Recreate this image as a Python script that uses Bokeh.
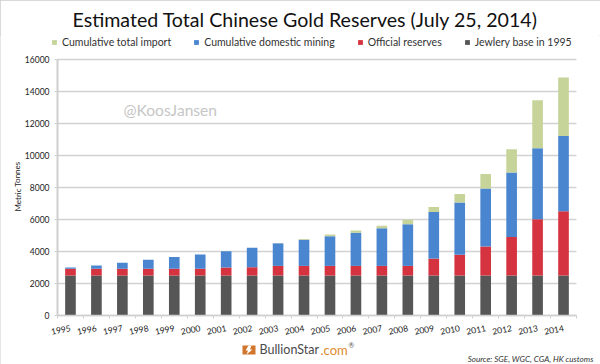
from bokeh.plotting import figure
from bokeh.embed import file_html
from bokeh.resources import INLINE
from bokeh.models import (Label, Legend, LegendItem, FixedTicker, Range1d, ColumnDataSource,
                          BoxAnnotation, PolyAnnotation)

years = list(range(1995, 2015))
jewelry = [2500] * 20
official = [420, 420, 420, 420, 420, 420, 500, 520, 600, 600, 600, 600, 600, 600, 1054, 1300, 1820, 2400, 3510, 4010]
mining = [80, 200, 380, 560, 730, 900, 1010, 1210, 1410, 1630, 1850, 2070, 2350, 2600, 2916, 3255, 3610, 4030, 4440, 4710]
imports = [0, 0, 0, 0, 0, 0, 0, 0, 20, 50, 120, 150, 160, 290, 310, 535, 920, 1460, 3010, 3660]
series = ["jewelry", "official", "mining", "imports"]
colors = ["#565656", "#d5333f", "#4a85d0", "#c6d49a"]
names = {"imports": "Cumulative total import", "mining": "Cumulative domestic mining",
         "official": "Official reserves", "jewelry": "Jewlery base in 1995"}
y_ticks = list(range(0, 16001, 2000))
FONT = "Lato"
W, H = 600, 364
TOP = 35                # top of the plot frame; the frame reaches every other canvas edge
PX_L, PX_R = 57, 576    # canvas x of the first / last category boundary
PX_Y0, PX_YMAX = 315, 59  # canvas y of values 0 and 16000

X0, X1 = years[0] - 0.5, years[-1] + 0.5
px_x = (PX_R - PX_L) / (X1 - X0)
px_y = (PX_Y0 - PX_YMAX) / y_ticks[-1]
x_range = Range1d(X0 - PX_L / px_x, X1 + (W - PX_R) / px_x)
y_range = Range1d(-(H - PX_Y0) / px_y, y_ticks[-1] + (PX_YMAX - TOP) / px_y)

src = ColumnDataSource(dict(year=years, jewelry=jewelry, official=official, mining=mining, imports=imports))
p = figure(width=W, height=H, output_backend="svg", toolbar_location=None,
           x_range=x_range, y_range=y_range,
           min_border_left=0, min_border_right=0, min_border_top=TOP, min_border_bottom=0,
           outline_line_color=None, background_fill_color="white", border_fill_color="white",
           styles={"outline": "2px solid #cccccc", "outline-offset": "-2px"})
p.segment(x0=[X0] * len(y_ticks), x1=[X1] * len(y_ticks), y0=y_ticks, y1=y_ticks,
          line_color="#d2d2d2", line_width=1.5, level="underlay")
rs = p.vbar_stack(series, x="year", width=0.41, source=src, color=colors, line_color=None)

p.xgrid.visible = False
p.ygrid.visible = False
p.yaxis.fixed_location = X0
p.yaxis.bounds = (0, y_ticks[-1])
p.yaxis.ticker = FixedTicker(ticks=y_ticks)
p.yaxis.axis_line_color = "#cfcfcf"
p.yaxis.axis_line_width = 2
p.yaxis.major_tick_line_color = "#cfcfcf"
p.yaxis.major_tick_in = 0
p.yaxis.major_tick_out = 3
p.yaxis.minor_tick_line_color = None
p.yaxis.major_label_text_font = FONT
p.yaxis.major_label_text_font_size = "8.5px"
p.yaxis.major_label_text_color = "#222222"
p.yaxis.major_label_standoff = 5

p.xaxis.fixed_location = 0
p.xaxis.bounds = (X0, X1)
p.xaxis.ticker = FixedTicker(ticks=years, minor_ticks=[y - 0.5 for y in years] + [X1])
p.xaxis.major_label_overrides = {y: str(y) for y in years}
p.xaxis.major_tick_line_color = None
p.xaxis.minor_tick_line_color = "#cfcfcf"
p.xaxis.minor_tick_in = 0
p.xaxis.minor_tick_out = 3
p.xaxis.axis_line_color = "#cfcfcf"
p.xaxis.axis_line_width = 1.5
p.xaxis.major_label_orientation = 0.2
p.xaxis.major_label_standoff = 6
p.xaxis.major_label_text_font = FONT
p.xaxis.major_label_text_font_size = "8.5px"
p.xaxis.major_label_text_color = "#222222"

p.title.text = "Estimated Total Chinese Gold Reserves (July 25, 2014)"
p.title.text_font = FONT
p.title.text_font_style = "normal"
p.title.text_font_size = "19.6px"
p.title.text_color = "#111111"
p.title.align = "left"
p.title.offset = 72

items = [LegendItem(label=names[s], renderers=[r]) for s, r in zip(series, rs)][::-1]
leg = Legend(items=items, orientation="horizontal", location=(51, H - 48), border_line_color=None,
             background_fill_alpha=0, glyph_width=6, glyph_height=6, label_text_font=FONT,
             label_text_font_size="10.5px", label_text_color="#333333", spacing=22,
             label_standoff=5, padding=0, margin=0)
p.add_layout(leg, "center")


def lab(x, y, text, size, color="#333333", **kw):
    p.add_layout(Label(x=x, y=H - y, x_units="screen", y_units="screen", text=text,
                       text_font=kw.pop("font", FONT), text_font_size=size, text_color=color,
                       text_baseline="middle", **kw))


lab(123, 109, "@KoosJansen", "15.6px", "#c6c6c6")
lab(17, 186, "Metric Tonnes", "8px", "#222222", angle=1.5708, text_align="center")
lab(593, 358, "Source: SGE, WGC, CGA, HK customs", "8.1px", "#333333", text_align="right",
    text_font_style="italic")
lab(259, 349, "BullionStar", "12.5px", "#4a4a4a")
lab(320, 349, ".com", "13px", "#e08a2e")
lab(348, 344, "®", "7px", "#555555")
p.add_layout(BoxAnnotation(left=242, right=255, bottom=H - 354, top=H - 345,
                           left_units="screen", right_units="screen", bottom_units="screen", top_units="screen",
                           fill_color="#d2752c", fill_alpha=1, line_color=None))
p.add_layout(PolyAnnotation(xs=[248, 251, 249.5, 252, 246, 247.5, 245],
                            ys=[H - v for v in [345, 345, 349, 349, 354, 350, 350]],
                            xs_units="screen", ys_units="screen",
                            fill_color="white", fill_alpha=1, line_color=None))

open("out.html", "w").write(file_html(p, INLINE))
